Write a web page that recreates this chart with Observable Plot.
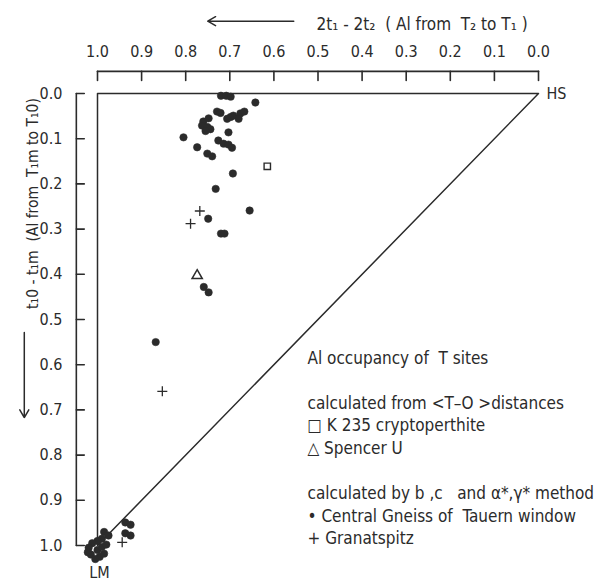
<!DOCTYPE html>
<html>
<head>
<meta charset="utf-8">
<script src="https://cdn.jsdelivr.net/npm/d3@7"></script>
<script src="https://cdn.jsdelivr.net/npm/@observablehq/plot@0.6"></script>
<style>
  html, body { margin: 0; padding: 0; background: #fff; }
  #chart svg { display: block; }
</style>
</head>
<body>
<div id="chart"></div>
<script>
// ---- data ----
const xTicks = [1.0, 0.9, 0.8, 0.7, 0.6, 0.5, 0.4, 0.3, 0.2, 0.1, 0.0];
const yTicks = [0.0, 0.1, 0.2, 0.3, 0.4, 0.5, 0.6, 0.7, 0.8, 0.9, 1.0];

// Central Gneiss of Tauern window (filled dots): [2t1-2t2, t1o-t1m]
const tauernX = [0.720, 0.708, 0.698, 0.642, 0.729, 0.721, 0.698, 0.692, 0.676, 0.667,
                 0.680, 0.706, 0.760, 0.748, 0.763, 0.751, 0.744, 0.755, 0.703, 0.805,
                 0.774, 0.726, 0.714, 0.703, 0.695, 0.751, 0.740, 0.693, 0.732, 0.655,
                 0.749, 0.720, 0.712, 0.759, 0.748, 0.868, 0.937, 0.925, 0.937, 0.925,
                 0.985, 0.975, 0.990, 1.000, 1.012, 1.020, 1.000, 0.990, 1.015, 0.995,
                 0.980, 1.005, 1.022, 0.985];
const tauernY = [0.005, 0.005, 0.007, 0.020, 0.040, 0.043, 0.052, 0.049, 0.044, 0.040,
                 0.056, 0.056, 0.062, 0.055, 0.071, 0.074, 0.079, 0.083, 0.086, 0.097,
                 0.119, 0.104, 0.111, 0.113, 0.120, 0.133, 0.139, 0.177, 0.211, 0.259,
                 0.277, 0.310, 0.310, 0.428, 0.440, 0.550, 0.949, 0.954, 0.973, 0.978,
                 0.970, 0.978, 0.985, 0.990, 0.995, 1.005, 1.010, 1.003, 1.020, 1.025,
                 0.998, 1.030, 1.015, 1.018];
// Granatspitz (+)
const granatX = [0.768, 0.789, 0.853, 0.944];
const granatY = [0.260, 0.288, 0.659, 0.993];
// K 235 cryptoperthite (square), Spencer U (triangle)
const k235X = [0.615], k235Y = [0.161];
const spencerX = [0.774], spencerY = [0.403];

// triangle vertices: ordered top-left corner, HS, LM, back
const cornerNames = ["", "HS", "LM", ""];
const cornerX = [1, 0, 1, 1];
const cornerY = [0, 0, 1, 0];

const titleText = "2t\u2081 - 2t\u2082  ( Al from  T\u2082 to T\u2081 )";
const yLabelText = "t\u20810 - t\u2081m  (Al from  T\u2081m to T\u20810)";
const legendLines = [
  "Al occupancy of  T sites",
  "",
  "calculated from <T\u2013O >distances",
  "\u25A1 K 235 cryptoperthite",
  "\u25B3 Spencer U",
  "",
  "calculated by b ,c   and \u03B1*,\u03B3* method",
  "\u2022 Central Gneiss of  Tauern window",
  "+ Granatspitz"
];
// axis direction arrows and ruler positions (in data units)
const arrowX1 = [0.555, 1.166], arrowX2 = [0.750, 1.166];
const arrowY1 = [-0.160, 0.529], arrowY2 = [-0.160, 0.717];
const rulerTopY = -0.049, rulerTickY = -0.029;   // top ruler line and tick ends
const rulerLeftX = 1.048, rulerTickX = 1.030;    // left ruler line and tick ends

// ---- build ----
const zip = (xs, ys) => xs.map((x, i) => ({x, y: ys[i]}));
const tauern = zip(tauernX, tauernY);
const granat = zip(granatX, granatY);
const k235 = zip(k235X, k235Y);
const spencer = zip(spencerX, spencerY);
const corners = cornerX.map((x, i) => ({x, y: cornerY[i], name: cornerNames[i]}));
const arrows = arrowX1.map((x1, i) => ({x1, x2: arrowX2[i], y1: arrowY1[i], y2: arrowY2[i]}));
const rulerSegs = [
  {x1: 1, x2: 0, y1: rulerTopY, y2: rulerTopY},
  {x1: rulerLeftX, x2: rulerLeftX, y1: 0, y2: 1},
  ...xTicks.map(v => ({x1: v, x2: v, y1: rulerTopY, y2: rulerTickY})),
  ...yTicks.map(v => ({x1: rulerLeftX, x2: rulerTickX, y1: v, y2: v}))
];

const W = 610, H = 584, mT = 93, mR = 72, mB = 39, mL = 97;
const ink = "#2b2b2b";
const font = "'DejaVu Sans Condensed', 'DejaVu Sans', sans-serif";
const fmt = d3.format(".1f");

const plusSym = {
  draw(ctx, size) {
    const r = Math.sqrt(size / Math.PI);
    ctx.moveTo(-r, 0); ctx.lineTo(r, 0);
    ctx.moveTo(0, -r); ctx.lineTo(0, r);
  }
};

const chart = Plot.plot({
  width: W, height: H,
  marginTop: mT, marginRight: mR, marginBottom: mB, marginLeft: mL,
  style: {fontFamily: font, background: "#fff", color: ink, fontStretch: "condensed"},
  x: {domain: [1, 0]},
  y: {domain: [0, 1], reverse: true},
  marks: [
    // axis tick labels
    Plot.axisX(xTicks, {anchor: "top", tickSize: 0, tickPadding: 37, tickFormat: fmt, label: null, fontSize: 16, fill: ink}),
    Plot.axisY(yTicks, {anchor: "left", tickSize: 0, tickPadding: 35, tickFormat: fmt, label: null, fontSize: 16, fill: ink}),
    // detached rulers with their ticks
    Plot.arrow(rulerSegs, {x1: "x1", y1: "y1", x2: "x2", y2: "y2", stroke: ink, strokeWidth: 1.6, headLength: 0}),
    // triangle
    Plot.line(corners, {x: "x", y: "y", stroke: ink, strokeWidth: 1.5}),
    Plot.text(corners.filter(d => d.name === "HS"), {x: "x", y: "y", text: "name", textAnchor: "start", dx: 8, fontSize: 16, fill: ink}),
    Plot.text(corners.filter(d => d.name === "LM"), {x: "x", y: "y", text: "name", dy: 27, dx: 2, fontSize: 16, fill: ink}),
    // data
    Plot.dot(tauern, {x: "x", y: "y", r: 3.7, fill: ink, stroke: ink, strokeWidth: 0.6}),
    Plot.dot(granat, {x: "x", y: "y", r: 5, symbol: plusSym, stroke: ink, strokeWidth: 1.3, fill: "none"}),
    Plot.dot(k235, {x: "x", y: "y", r: 3.6, symbol: "square", stroke: ink, strokeWidth: 1.4, fill: "none"}),
    Plot.dot(spencer, {x: "x", y: "y", r: 3.8, symbol: "triangle", stroke: ink, strokeWidth: 1.5, fill: "none"}),
    // axis labels and arrows
    Plot.arrow(arrows, {x1: "x1", y1: "y1", x2: "x2", y2: "y2", stroke: ink, strokeWidth: 1.5, headLength: 9}),
    Plot.text([titleText], {text: d => d, frameAnchor: "top-left", dx: 219, dy: -76, textAnchor: "start", fontSize: 17, fill: ink}),
    Plot.text([yLabelText], {text: d => d, frameAnchor: "top-left", dx: -71, dy: 110, rotate: -90, textAnchor: "middle", fontSize: 15.5, fill: ink}),
    // legend block
    Plot.text([legendLines.join("\n")], {text: d => d, frameAnchor: "top-left", dx: 210, dy: 254,
      textAnchor: "start", lineAnchor: "top", lineHeight: 1.33, fontSize: 17, fill: ink})
  ]
});
document.getElementById("chart").appendChild(chart);
</script>
</body>
</html>
